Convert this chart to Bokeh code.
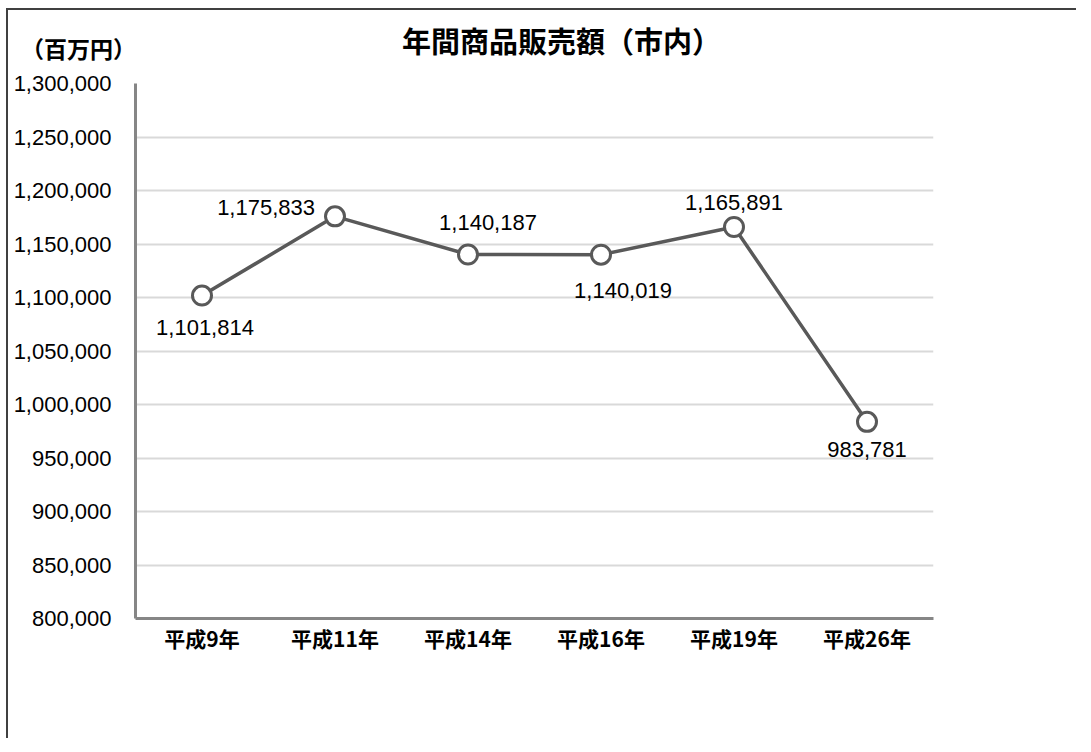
from bokeh.plotting import figure
from bokeh.models import ColumnDataSource, Label, NumeralTickFormatter, FixedTicker, LabelSet, Range1d
from bokeh.core.properties import value
from bokeh.embed import file_html
from bokeh.resources import INLINE

# ---- data ----
categories = ["平成9年", "平成11年", "平成14年", "平成16年", "平成19年", "平成26年"]
sales = [1101814, 1175833, 1140187, 1140019, 1165891, 983781]
y_ticks = [800000, 850000, 900000, 950000, 1000000, 1050000, 1100000,
           1150000, 1200000, 1250000, 1300000]
title_text = "年間商品販売額（市内）"
unit_text = "（百万円）"

# label placement (pixels) per point
label_dx = [3, -20, 20, 22, 0, 0]
label_dy = [-32, 9, 32, -36, 24, -28]
label_align = ["center", "right", "center", "center", "center", "center"]

JP = "Noto Sans CJK JP"
NUM = "Liberation Sans"

W, H = 1070, 730
p = figure(x_range=categories, y_range=Range1d(800000, 1300000),
           width=W, height=H, output_backend="svg", toolbar_location=None,
           min_border_left=127, min_border_right=145, min_border_top=73,
           min_border_bottom=122)
p.outline_line_color = None
p.background_fill_color = "white"
p.border_fill_color = "white"
p.styles = {"border-left": "2px solid #404040", "border-top": "2px solid #404040",
            "margin-left": "6px", "margin-top": "8px"}

# y axis
p.yaxis.ticker = FixedTicker(ticks=y_ticks)
p.yaxis.formatter = NumeralTickFormatter(format="0,0")
p.yaxis.major_tick_line_color = None
p.yaxis.minor_tick_line_color = None
p.yaxis.axis_line_color = "#868686"
p.yaxis.axis_line_width = 3
p.yaxis.major_label_text_font = NUM
p.yaxis.major_label_text_font_size = "22px"
p.yaxis.major_label_text_color = "black"
p.yaxis.major_label_standoff = 18

# x axis
p.xaxis.major_tick_line_color = None
p.xaxis.minor_tick_line_color = None
p.xaxis.axis_line_color = "#868686"
p.xaxis.axis_line_width = 3
p.xaxis.major_label_text_font = JP
p.xaxis.major_label_text_font_style = "bold"
p.xaxis.major_label_text_font_size = "21px"
p.xaxis.major_label_text_color = "black"
p.xaxis.major_label_standoff = -2

p.xgrid.grid_line_color = None
p.ygrid.grid_line_color = "#d9d9d9"
p.ygrid.grid_line_width = 1.8

src = ColumnDataSource(dict(
    x=categories, y=sales,
    txt=[f"{v:,}" for v in sales],
    dx=label_dx, dy=label_dy, align=label_align,
))

p.line("x", "y", source=src, line_color="#595959", line_width=3.5)
p.scatter("x", "y", source=src, size=19, marker="circle", fill_color="white",
          line_color="#595959", line_width=3)

p.add_layout(LabelSet(x="x", y="y", text="txt", source=src, x_offset="dx", y_offset="dy",
                      text_align="align", text_baseline="middle",
                      text_font=value(NUM), text_font_size=value("22px"),
                      text_color="black"))

# chart title and unit label, positioned on the canvas (placed in a side panel so
# that they are not clipped to the plot frame)
p.add_layout(Label(x=551, y=27, x_units="canvas", y_units="canvas", text=title_text,
                   text_font=JP, text_font_style="bold", text_font_size="29px",
                   text_align="center", text_baseline="middle", text_color="black"),
             "below")
p.add_layout(Label(x=68, y=35, x_units="canvas", y_units="canvas", text=unit_text,
                   text_font=JP, text_font_style="bold", text_font_size="23px",
                   text_align="center", text_baseline="middle", text_color="black"),
             "below")

open("out.html", "w").write(file_html(p, INLINE))
